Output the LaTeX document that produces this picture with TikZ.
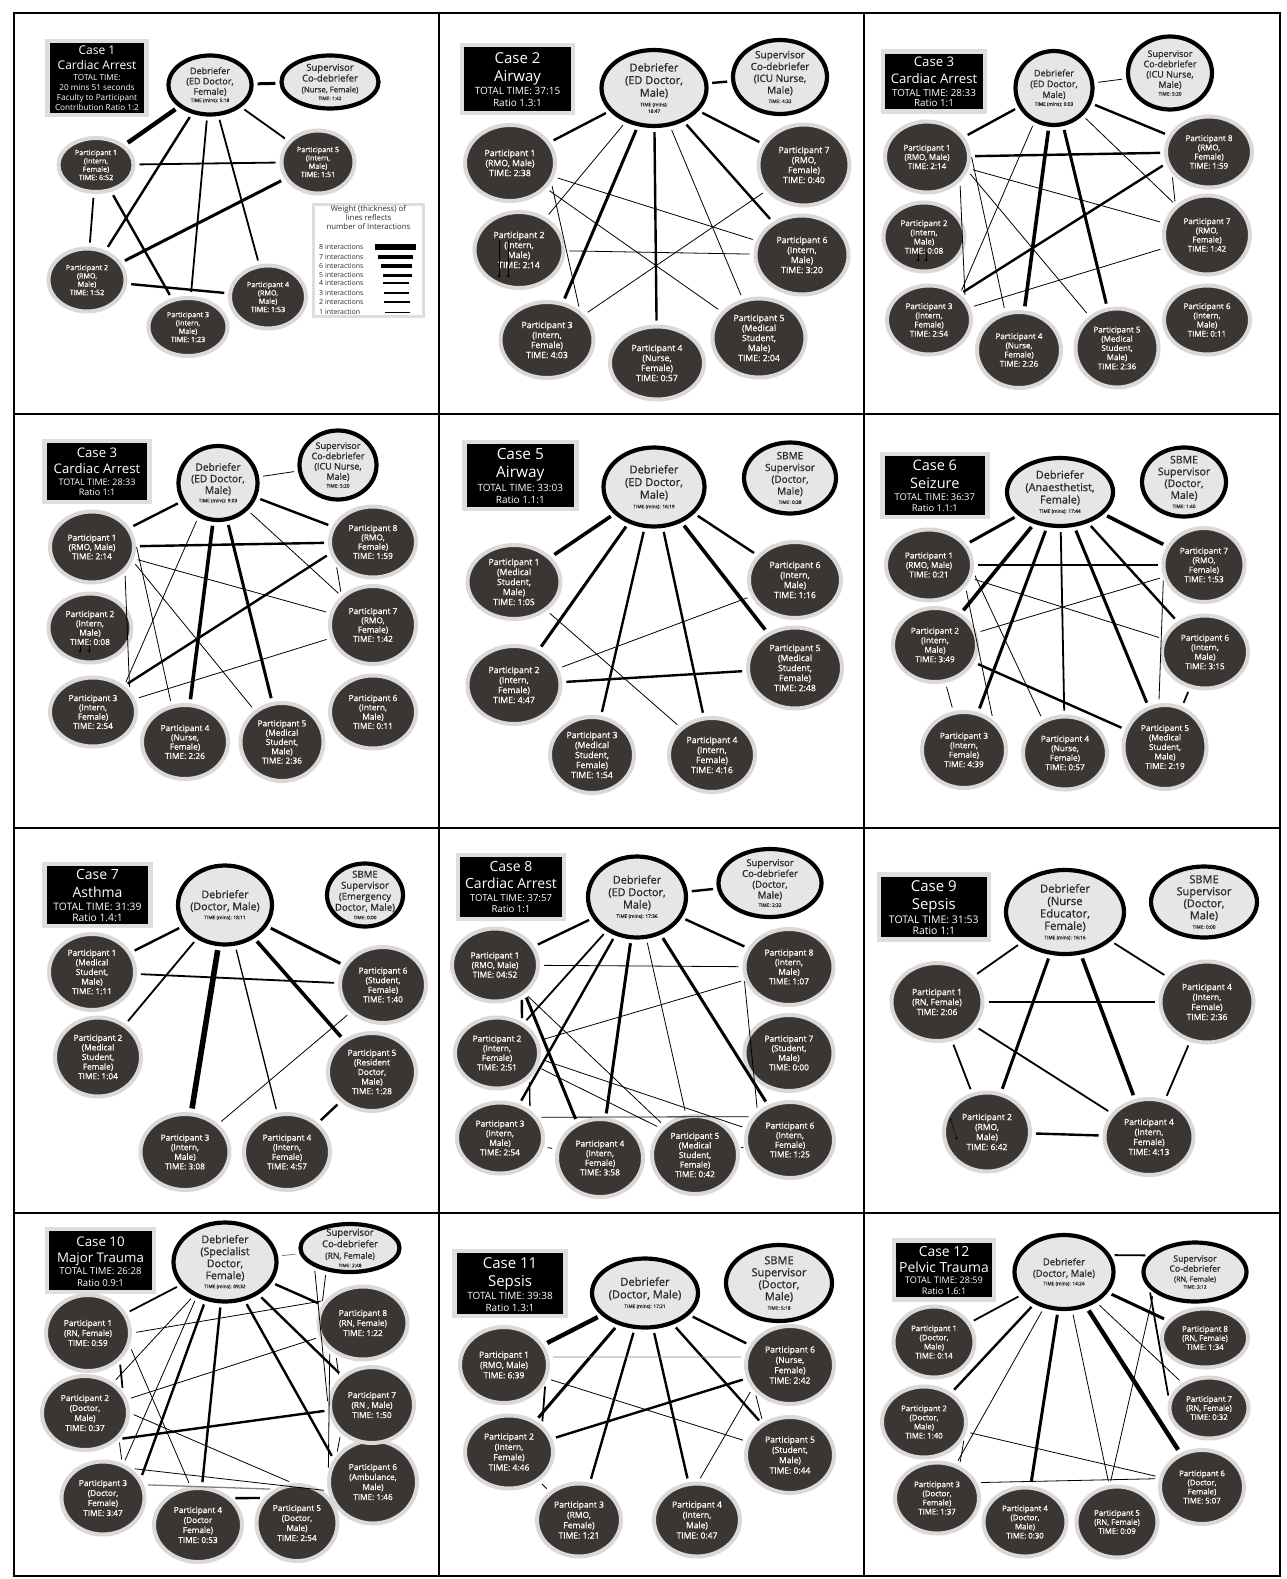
\documentclass[tikz,border=0pt]{standalone}
\usepackage{fontspec}
\setmainfont{Open Sans}
\newfontfamily\semib{Open Sans}[FakeBold=0.9]
\usetikzlibrary{shapes.geometric}

\definecolor{partfill}{HTML}{3B3634}
\definecolor{halo}{HTML}{D9D9D9}
\definecolor{debfill}{HTML}{E6E6E6}
\definecolor{boxrim}{HTML}{DEDEDE}
\definecolor{inktext}{HTML}{2B2B2B}

\newcommand{\casettl}[3]{{\fontsize{#1}{#2}\selectfont\strut #3}}
\newcommand{\tsmall}[1]{{\fontsize{4.8}{5.5}\selectfont #1}}
\newcommand{\pf}[2]{\semib\fontsize{#1}{#2}\selectfont}

\tikzset{
  part/.style={ellipse, fill=partfill, draw=halo, line width=4pt, text=white,
    align=center, inner sep=-4pt, font=\pf{8.3}{9.6}},
  lead/.style={ellipse, fill=debfill, draw=black, line width=4.2pt, text=inktext,
    align=center, inner sep=-4pt},
  casebox/.style={rectangle, fill=black, draw=boxrim, line width=4.5pt, text=white,
    align=center, inner sep=0pt},
  sz/.style args={#1x#2}{minimum width=#1pt, minimum height=#2pt},
  link/.style={draw=black, shorten <=4pt, shorten >=4pt},
  w1/.style={link, line width=0.8pt},
  w2/.style={link, line width=1.3pt},
  w3/.style={link, line width=1.8pt},
  w4/.style={link, line width=2.4pt},
  w5/.style={link, line width=3pt},
  w6/.style={link, line width=3.6pt},
  w7/.style={link, line width=4.4pt},
  w8/.style={link, line width=5.6pt},
  gw1/.style={w1, draw=gray},
  gw2/.style={w2, draw=gray},
}

\begin{document}
\begin{tikzpicture}[x=1pt, y=-1pt]
\fill[white] (0,0) rectangle (1286,1579);

% frame
\draw[line width=2pt] (14,13) rectangle (1280,1576);
\draw[line width=2pt] (439,13) -- (439,1576) (864,13) -- (864,1576);
\draw[line width=2pt] (14,414) -- (1280,414) (14,828) -- (1280,828) (14,1213) -- (1280,1213);

% Case 1
\begin{scope}[shift={(10,10)}, part/.append style={font=\pf{7.2}{8.3}}]
  \node[casebox, sz=99x74, font=\fontsize{8.2}{10}\selectfont] (a-case) at (87,68)
    {\casettl{12}{14}{Case 1}\\\casettl{12}{14}{Cardiac Arrest}\\TOTAL TIME:\\20 mins 51 seconds\\Faculty to Participant\\Contribution Ratio 1:2};
  \node[lead, sz=83x59, font=\pf{9}{10.3}] (a-deb) at (200,75)
    {Debriefer\\(ED Doctor,\\Female)\\[-3pt]\tsmall{TIME (mins): 5:18}};
  \node[lead, sz=97x53, font=\pf{9.5}{10.8}] (a-sup) at (320,72)
    {Supervisor\\Co-debriefer\\{\fontsize{7.8}{9}\selectfont (Nurse, Female)}\\[-3pt]\tsmall{TIME: 1:42}};
  \node[part, sz=75x54] (a-p1) at (86,155) {Participant 1\\(Intern,\\Female)\\TIME: 6:52};
  \node[part, sz=73x63] (a-p5) at (308,152) {Participant 5\\(Intern,\\Male)\\TIME: 1:51};
  \node[part, sz=77x63] (a-p2) at (77,270) {Participant 2\\(RMO,\\Male)\\TIME: 1:52};
  \node[part, sz=79x58] (a-p3) at (178,317) {Participant 3\\(Intern,\\Male)\\TIME: 1:23};
  \node[part, sz=76x63] (a-p4) at (258,287) {Participant 4\\(RMO,\\Male)\\TIME: 1:53};
  \foreach \a/\b/\w in {deb/sup/w5,deb/p1/w7,deb/p2/w4,deb/p3/w3,deb/p4/w3,deb/p5/w3,
      p1/p5/w3,p1/p2/w3,p1/p3/w4,p2/p5/w5,p2/p4/w4}
    \draw[\w] (a-\a) -- (a-\b);
  % key
  \node[rectangle, draw=boxrim, line width=3pt, fill=white, sz=110x112] (a-key) at (358.5,250.5) {};
  \node[anchor=north, text=inktext, align=center, inner sep=0pt, font=\fontsize{7.8}{9}\selectfont] (a-keyhead) at (358.5,195)
    {Weight (thickness) of\\lines reflects\\number of Interactions};
  \foreach \n/\y/\l/\r/\w in {8/237/365/406/w8,7/247/368/403/w7,6/256/371/402/w6,5/265/373/402/w5,
      4/273/373/399/w4,3/283/374/399/w3,2/292/374/400/w2,1/302/375/400/w1}{
    \node[anchor=west, text=inktext, inner sep=0pt, font=\fontsize{7}{8}\selectfont] (a-key\n) at (309,\y)
      {\n\ interaction\ifnum\n>1 s\fi};
    \draw[\w, shorten <=0pt, shorten >=0pt] (\l,\y) -- (\r,\y);
  }
\end{scope}

% Case 2
\begin{scope}[shift={(437,10)}, part/.append style={font=\pf{8.7}{10}}]
  \node[casebox, sz=111x68, font=\fontsize{10}{11.7}\selectfont] (b-case) at (80.5,69)
    {\casettl{15}{17}{Case 2}\\\casettl{15}{17}{Airway}\\TOTAL TIME: 37:15\\Ratio 1.3:1};
  \node[lead, sz=105x76, font=\pf{11}{12.6}] (b-deb) at (217,78)
    {Debriefer\\(ED Doctor,\\Male)\\[-3pt]\tsmall{TIME (mins):}\\[-6pt]\tsmall{16:47}};
  \node[lead, sz=94x74, font=\pf{10}{11.8}] (b-sup) at (343,67)
    {Supervisor\\Co-debriefer\\(ICU Nurse,\\Male)\\[-2.5pt]\tsmall{TIME: 4:32}};
  \node[part, sz=90x76] (b-p1) at (73,153) {Participant 1\\(RMO, Male)\\TIME: 2:38};
  \node[part, sz=89x76] (b-p2) at (82,240) {Participant 2\\(Intern,\\Male)\\TIME: 2:14};
  \node[part, sz=93x76] (b-p3) at (110,330) {Participant 3\\(Intern,\\Female)\\TIME: 4:03};
  \node[part, sz=94x73] (b-p4) at (220,353) {Participant 4\\(Nurse,\\Female)\\TIME: 0:57};
  \node[part, sz=93x79] (b-p5) at (322,328) {Participant 5\\(Medical\\Student,\\Male)\\TIME: 2:04};
  \node[part, sz=93x79] (b-p6) at (365,245) {Participant 6\\(Intern,\\Male)\\TIME: 3:20};
  \node[part, sz=91x81] (b-p7) at (367,155) {Participant 7\\(RMO,\\Female)\\TIME: 0:40};
  \foreach \a/\b/\w in {deb/sup/w4,deb/p1/w4,deb/p7/w4,deb/p2/w1,deb/p3/w5,deb/p4/w4,deb/p5/w1,
      deb/p6/w4,p1/p6/w1,p1/p5/w1,p1.-25/p3.42/w1,p2/p6/w1,p3/p7/w1}
    \draw[\w] (b-\a) -- (b-\b);
  \draw[-stealth, thin] ([shift={(-20,-10)}]b-p2.center) -- ([shift={(-20,28)}]b-p2.center);
  \draw[-stealth, thin] ([shift={(-11,-10)}]b-p2.center) -- ([shift={(-11,28)}]b-p2.center);
\end{scope}

% Case 3
\begin{scope}[shift={(862,10)}, part/.append style={font=\pf{8}{9.2}}]
  \node[casebox, sz=102x60, font=\fontsize{9.8}{10.5}\selectfont] (c-case) at (72,71.5)
    {\casettl{13.2}{15.5}{Case 3}\\\casettl{13.2}{15.5}{Cardiac Arrest}\\TOTAL TIME: 28:33\\Ratio 1:1};
  \node[lead, sz=77x74, font=\pf{9}{10.8}] (c-deb) at (192,78)
    {Debriefer\\(ED Doctor,\\Male)\\[-3pt]\tsmall{TIME (mins): 9:03}};
  \node[lead, sz=84x73, font=\pf{9}{10.3}] (c-sup) at (308,63)
    {Supervisor\\Co-debriefer\\(ICU Nurse,\\Male)\\[-2.5pt]\tsmall{TIME: 5:20}};
  \node[part, sz=84x71] (c-p1) at (65,147) {Participant 1\\(RMO, Male)\\TIME: 2:14};
  \node[part, sz=81x69] (c-p2) at (62,227) {Participant 2\\(Intern,\\Male)\\TIME: 0:08};
  \node[part, sz=84x69] (c-p3) at (67,310) {Participant 3\\(Intern,\\Female)\\TIME: 2:54};
  \node[part, sz=84x76] (c-p4) at (157,340) {Participant 4\\(Nurse,\\Female)\\TIME: 2:26};
  \node[part, sz=83x79] (c-p5) at (255,338) {Participant 5\\(Medical\\Student,\\Male)\\TIME: 2:36};
  \node[part, sz=86x69] (c-p6) at (345,310) {Participant 6\\(Intern,\\Male)\\TIME: 0:11};
  \node[part, sz=86x79] (c-p7) at (345,225) {Participant 7\\(RMO,\\Female)\\TIME: 1:42};
  \node[part, sz=86x71] (c-p8) at (347,142) {Participant 8\\(RMO,\\Female)\\TIME: 1:59};
  \foreach \a/\b/\w in {deb/sup/w1,deb/p1/w4,deb/p8/w4,deb.-120/p3.40/w1,deb/p4/w6,deb/p5/w5,
      deb/p7/w1,p1/p8/w4,p1/p7/w1,p1.-19/p5.131/w1,p1.5/p4.110/w1,p1.-37/p3.30/w1,p3/p7/w1,
      p8.-150/p7.137/w1,p3.40/p8.-165/w4}
    \draw[\w] (c-\a) -- (c-\b);
  \draw[-stealth, thin] ([shift={(-6,16)}]c-p2.center) -- ([shift={(-6,25)}]c-p2.center);
  \draw[-stealth, thin] ([shift={(2,16)}]c-p2.center) -- ([shift={(2,25)}]c-p2.center);
\end{scope}

% Case 3 (again)
\begin{scope}[shift={(10,410)}, part/.append style={font=\pf{8.3}{9.3}}]
  \node[casebox, sz=105x61, font=\fontsize{9}{10}\selectfont] (d-case) at (87,61.7)
    {\casettl{13.2}{15}{Case 3}\\\casettl{13.2}{15}{Cardiac Arrest}\\TOTAL TIME: 28:33\\Ratio 1:1};
  \node[lead, sz=79x74, font=\pf{10.2}{11.5}] (d-deb) at (208,73)
    {Debriefer\\(ED Doctor,\\Male)\\[-3pt]\tsmall{TIME (mins): 9:03}};
  \node[lead, sz=77x69, font=\pf{9}{10.3}] (d-sup) at (328,55)
    {Supervisor\\Co-debriefer\\(ICU Nurse,\\Male)\\[-2.5pt]\tsmall{TIME: 5:20}};
  \node[part, sz=84x71] (d-p1) at (82,137) {Participant 1\\(RMO, Male)\\TIME: 2:14};
  \node[part, sz=83x69] (d-p2) at (80,218) {Participant 2\\(Intern,\\Male)\\TIME: 0:08};
  \node[part, sz=86x69] (d-p3) at (83,302) {Participant 3\\(Intern,\\Female)\\TIME: 2:54};
  \node[part, sz=86x74] (d-p4) at (175,332) {Participant 4\\(Nurse,\\Female)\\TIME: 2:26};
  \node[part, sz=83x78] (d-p5) at (272,332) {Participant 5\\(Medical\\Student,\\Male)\\TIME: 2:36};
  \node[part, sz=86x73] (d-p6) at (363,302) {Participant 6\\(Intern,\\Male)\\TIME: 0:11};
  \node[part, sz=86x78] (d-p7) at (363,215) {Participant 7\\(RMO,\\Female)\\TIME: 1:42};
  \node[part, sz=86x71] (d-p8) at (363,132) {Participant 8\\(RMO,\\Female)\\TIME: 1:59};
  \foreach \a/\b/\w in {deb/sup/w1,deb/p1/w4,deb/p8/w4,deb.-120/p3.40/w1,deb/p4/w6,deb/p5/w5,
      deb/p7/w1,p1/p8/w4,p1/p7/w1,p1.-19/p5.131/w1,p1.5/p4.110/w1,p1.-37/p3.30/w1,p3/p7/w1,
      p8.-150/p7.137/w1,p3.40/p8.-165/w4}
    \draw[\w] (d-\a) -- (d-\b);
  \draw[-stealth, thin] ([shift={(-10,17)}]d-p2.center) -- ([shift={(-10,25)}]d-p2.center);
  \draw[-stealth, thin] ([shift={(-1,17)}]d-p2.center) -- ([shift={(-1,25)}]d-p2.center);
\end{scope}

% Case 5
\begin{scope}[shift={(437,410)}, part/.append style={font=\pf{8.7}{10}}]
  \node[casebox, sz=112x67, font=\fontsize{10}{12}\selectfont] (e-case) at (83.3,65.5)
    {\casettl{15.4}{17}{Case 5}\\\casettl{15.4}{17}{Airway}\\TOTAL TIME: 33:03\\Ratio 1.1:1};
  \node[lead, sz=101x79, font=\pf{11}{12.6}] (e-deb) at (217,77)
    {Debriefer\\(ED Doctor,\\Male)\\[-3pt]\tsmall{TIME (mins): 16:19}};
  \node[lead, sz=92x71, font=\pf{10}{11.8}] (e-sup) at (353,68)
    {SBME\\Supervisor\\(Doctor,\\Male)\\[-2.5pt]\tsmall{TIME: 0:38}};
  \node[part, sz=93x74] (e-p1) at (77,172) {Participant 1\\(Medical\\Student,\\Male)\\TIME: 1:05};
  \node[part, sz=93x78] (e-p2) at (77,275) {Participant 2\\(Intern,\\Female)\\TIME: 4:47};
  \node[part, sz=84x76] (e-p3) at (155,345) {Participant 3\\(Medical\\Student,\\Female)\\TIME: 1:54};
  \node[part, sz=86x74] (e-p4) at (275,345) {Participant 4\\(Intern,\\Female)\\TIME: 4:16};
  \node[part, sz=94x81] (e-p5) at (358,258) {Participant 5\\(Medical\\Student,\\Female)\\TIME: 2:48};
  \node[part, sz=92x76] (e-p6) at (358,170) {Participant 6\\(Intern,\\Male)\\TIME: 1:16};
  \foreach \a/\b/\w in {deb/p1/w6,deb/p6/w4,deb/p2/w5,deb/p3/w4,deb/p4/w4,deb/p5/w6,
      p1/p4/w1,p2/p6/w1,p2/p5/w4}
    \draw[\w] (e-\a) -- (e-\b);
\end{scope}

% Case 6
\begin{scope}[shift={(862,410)}, part/.append style={font=\pf{8.2}{9.5}}]
  \node[casebox, sz=105x63, font=\fontsize{9.4}{11}\selectfont] (f-case) at (72.8,75.5)
    {\casettl{14.5}{16.5}{Case 6}\\\casettl{14.5}{16.5}{Seizure}\\TOTAL TIME: 36:37\\Ratio 1.1:1};
  \node[lead, sz=106x68, font=\pf{10.9}{12.4}] (f-deb) at (198,82)
    {Debriefer\\(Anaesthetist,\\Female)\\[-3pt]\tsmall{TIME (mins): 17:44}};
  \node[lead, sz=84x69, font=\pf{10.5}{11.8}] (f-sup) at (322,72)
    {SBME\\Supervisor\\(Doctor,\\Male)\\[-2.5pt]\tsmall{TIME: 1:40}};
  \node[part, sz=86x71] (f-p1) at (67,155) {Participant 1\\(RMO, Male)\\TIME: 0:21};
  \node[part, sz=84x74] (f-p2) at (73,235) {Participant 2\\(Intern,\\Male)\\TIME: 3:49};
  \node[part, sz=84x76] (f-p3) at (102,340) {Participant 3\\(Intern,\\Female)\\TIME: 4:39};
  \node[part, sz=84x73] (f-p4) at (203,343) {Participant 4\\(Nurse,\\Female)\\TIME: 0:57};
  \node[part, sz=83x84] (f-p5) at (303,337) {Participant 5\\(Medical\\Student,\\Male)\\TIME: 2:19};
  \node[part, sz=86x73] (f-p6) at (343,242) {Participant 6\\(Intern,\\Male)\\TIME: 3:15};
  \node[part, sz=81x74] (f-p7) at (342,155) {Participant 7\\(RMO,\\Female)\\TIME: 1:53};
  \foreach \a/\b/\w in {deb/p1/w5,deb/p7/w6,deb/p2/w6,deb/p3/w5,deb/p4/w3,deb/p5/w5,deb/p6/w4,
      p1/p7/w4,p1/p6/w1,p1.-9/p4.124/w1,p1.-31/p3.46/w1,p2/p7/w1,p2/p5/w4,p2/p3/w1,
      p7.-164/p5.98/w1,p5/p6/w3}
    \draw[\w] (f-\a) -- (f-\b);
\end{scope}

% Case 7
\begin{scope}[shift={(10,820)}, part/.append style={font=\pf{8.3}{9.6}}]
  \node[casebox, sz=106x62, font=\fontsize{10.3}{11}\selectfont] (g-case) at (87.5,75)
    {\casettl{14}{16.5}{Case 7}\\\casettl{14}{16.5}{Asthma}\\TOTAL TIME: 31:39\\Ratio 1.4:1};
  \node[lead, sz=94x79, font=\pf{10.6}{12}] (g-deb) at (215,85)
    {Debriefer\\(Doctor, Male)\\[-3pt]\tsmall{TIME (mins): 18:11}};
  \node[lead, sz=76x63, font=\pf{9.6}{11}] (g-sup) at (355,75)
    {SBME\\Supervisor\\(Emergency\\Doctor, Male)\\[-2.5pt]\tsmall{TIME: 0:00}};
  \node[part, sz=86x76] (g-p1) at (82,152) {Participant 1\\(Medical\\Student,\\Male)\\TIME: 1:11};
  \node[part, sz=86x79] (g-p2) at (88,237) {Participant 2\\(Medical\\Student,\\Female)\\TIME: 1:04};
  \node[part, sz=89x76] (g-p3) at (175,332) {Participant 3\\(Intern,\\Male)\\TIME: 3:08};
  \node[part, sz=86x76] (g-p4) at (277,332) {Participant 4\\(Intern,\\Female)\\TIME: 4:57};
  \node[part, sz=88x78] (g-p5) at (362,252) {Participant 5\\(Resident\\Doctor,\\Male)\\TIME: 1:28};
  \node[part, sz=86x76] (g-p6) at (373,165) {Participant 6\\(Student,\\Female)\\TIME: 1:40};
  \foreach \a/\b/\w in {deb/p1/w4,deb/p6/w5,deb/p2/w3,deb/p3/w8,deb/p4/w2,deb/p5/w6,
      p1/p6/w3,p3/p6/w1,p4/p5/w4}
    \draw[\w] (g-\a) -- (g-\b);
\end{scope}

% Case 8
\begin{scope}[shift={(437,820)}, part/.append style={font=\pf{8.3}{9.6}}]
  \node[casebox, sz=106x64, font=\fontsize{9.6}{11}\selectfont] (h-case) at (74,66.8)
    {\casettl{14}{16}{Case 8}\\\casettl{14}{16}{Cardiac Arrest}\\TOTAL TIME: 37:57\\Ratio 1:1};
  \node[lead, sz=98x81, font=\pf{10.9}{12.4}] (h-deb) at (200,77)
    {Debriefer\\(ED Doctor,\\Male)\\[-3pt]\tsmall{TIME (mins): 17:36}};
  \node[lead, sz=103x68, font=\pf{9.5}{10.8}] (h-sup) at (333,63)
    {Supervisor\\Co-debriefer\\(Doctor,\\Male)\\[-2.5pt]\tsmall{TIME: 2:32}};
  \node[part, sz=86x73] (h-p1) at (58,145) {Participant 1\\(RMO, Male)\\TIME: 04:52};
  \node[part, sz=84x71] (h-p2) at (60,233) {Participant 2\\(Intern,\\Female)\\TIME: 2:51};
  \node[part, sz=86x71] (h-p3) at (63,318) {Participant 3\\(Intern,\\Male)\\TIME: 2:54};
  \node[part, sz=86x78] (h-p4) at (163,338) {Participant 4\\(Intern,\\Female)\\TIME: 3:58};
  \node[part, sz=86x78] (h-p5) at (258,335) {Participant 5\\(Medical\\Student,\\Female)\\TIME: 0:42};
  \node[part, sz=88x76] (h-p6) at (353,320) {Participant 6\\(Intern,\\Female)\\TIME: 1:25};
  \node[part, sz=89x76] (h-p7) at (352,233) {Participant 7\\(Student,\\Male)\\TIME: 0:00};
  \node[part, sz=89x76] (h-p8) at (352,147) {Participant 8\\(Intern,\\Male)\\TIME: 1:07};
  \foreach \a/\b/\w in {deb/sup/w4,deb/p1/w4,deb/p8/w4,p1/p8/w1,p1/p5/w1,deb/p2/w3,deb/p3/w4,
      deb/p4/w5,deb/p5/w1,deb/p6/w5,p1.-44/p4.123/w5,p1.-49/p2.51/w4,p2/p8/w1,p2.-19/p5.142/w1,
      p2.-8/p6.165/w1,p8.-167/p6.139/w1,p3.29/p6.148/w1,p3/p4/w1,p5/p6/w1,p2.-38/p3.43/w2}
    \draw[\w] (h-\a) -- (h-\b);
\end{scope}

% Case 9
\begin{scope}[shift={(862,820)}, part/.append style={font=\pf{8.5}{10}}]
  \node[casebox, sz=110x65, font=\fontsize{10.5}{11}\selectfont] (i-case) at (71.8,87)
    {\casettl{15}{17}{Case 9}\\\casettl{15}{17}{Sepsis}\\TOTAL TIME: 31:53\\Ratio 1:1};
  \node[lead, sz=118x84, font=\pf{11.3}{12.4}] (i-deb) at (203,92)
    {Debriefer\\(Nurse\\Educator,\\Female)\\[-3pt]\tsmall{TIME (mins): 16:16}};
  \node[lead, sz=106x71, font=\pf{11}{12}] (i-sup) at (342,82)
    {SBME\\Supervisor\\(Doctor,\\Male)\\[-2.5pt]\tsmall{TIME: 0:00}};
  \node[part, sz=91x78] (i-p1) at (75,182) {Participant 1\\(RN, Female)\\TIME: 2:06};
  \node[part, sz=86x79] (i-p2) at (125,312) {Participant 2\\(RMO,\\Male)\\TIME: 6:42};
  \node[part, sz=89x76] (i-p4b) at (287,317) {Participant 4\\(Intern,\\Female)\\TIME: 4:13};
  \node[part, sz=93x81] (i-p4a) at (345,182) {Participant 4\\(Intern,\\Female)\\TIME: 2:36};
  \foreach \a/\b/\w in {deb/p1/w3,deb/p4a/w3,deb/p2/w5,deb/p4b/w6,p1/p4a/w4,p1/p4b/w3,
      p1/p2/w3,p2/p4b/w4,p4a/p4b/w3}
    \draw[\w] (i-\a) -- (i-\b);
  \draw[stealth-stealth, thin] ([shift={(-37,-14)}]i-p2.center) -- ([shift={(-30,8)}]i-p2.center);
\end{scope}

% Case 10
\begin{scope}[shift={(10,1205)}, part/.append style={font=\pf{8.2}{10}}]
  \node[casebox, sz=107x63, font=\fontsize{9.6}{11.3}\selectfont] (j-case) at (90.5,55.5)
    {\casettl{13.3}{16}{Case 10}\\\casettl{13.3}{15}{Major Trauma}\\TOTAL TIME: 26:28\\Ratio 0.9:1};
  \node[lead, sz=103x79, font=\pf{10.6}{12}] (j-deb) at (215,57)
    {Debriefer\\(Specialist\\Doctor,\\Female)\\[-3pt]\tsmall{TIME (mins): 09:32}};
  \node[lead, sz=99x48, font=\pf{9.5}{11.5}] (j-sup) at (340,43)
    {Supervisor\\Co-debriefer\\{\fontsize{8.5}{9}\selectfont (RN, Female)}\\[-3pt]\tsmall{TIME: 2:48}};
  \node[part, sz=84x76] (j-p1) at (78,128) {Participant 1\\(RN, Female)\\TIME: 0:59};
  \node[part, sz=86x74] (j-p2) at (75,208) {Participant 2\\(Doctor,\\Male)\\TIME: 0:37};
  \node[part, sz=83x73] (j-p3) at (93,293) {Participant 3\\(Doctor,\\Female)\\TIME: 3:47};
  \node[part, sz=88x74] (j-p4) at (188,320) {Participant 4\\(Doctor\\Female)\\TIME: 0:53};
  \node[part, sz=81x76] (j-p5) at (287,318) {Participant 5\\(Doctor,\\Male)\\TIME: 2:54};
  \node[part, sz=88x83] (j-p6) at (363,277) {Participant 6\\(Ambulance,\\Male)\\TIME: 1:46};
  \node[part, sz=84x76] (j-p7) at (362,200) {Participant 7\\(RN , Male)\\TIME: 1:50};
  \node[part, sz=89x73] (j-p8) at (353,118) {Participant 8\\(RN, Female)\\TIME: 1:22};
  \foreach \a/\b/\w in {deb/sup/gw1,deb/p1/w3,deb/p8/w4,deb/p7/w4,deb.-63/p6.150/w4,deb/p4/w4,
      deb.-117/p3.27/w4,deb.-129/p3.59/w1,deb/p2/w1,p1.0/p8.149/w1,p1.-17/p4.101/w1,p2/p8/w1,
      p2.-38/p7.-173/w4,p2.0/p5.96/w1,p1.-41/p2.29/w3,p2.-37/p3.61/w1,p3.47/p6.-169/w1,
      p3.18/p5.124/gw2,p4.39/p5.143/w4,sup.-136/p8.156/w1,sup.-152/p7.180/w1,
      p8.-131/p7.141/w1,p8.-141/p6.167/w1,p7.-138/p6.144/w1}
    \draw[\w] (j-\a) -- (j-\b);
\end{scope}

% Case 11
\begin{scope}[shift={(437,1205)}, part/.append style={font=\pf{8.5}{10.3}}]
  \node[casebox, sz=111x65, font=\fontsize{10}{11.7}\selectfont] (k-case) at (73,78.7)
    {\casettl{15}{17}{Case 11}\\\casettl{15}{17}{Sepsis}\\TOTAL TIME: 39:38\\Ratio 1.3:1};
  \node[lead, sz=106x69, font=\pf{11.1}{12.6}] (k-deb) at (208,88)
    {Debriefer\\(Doctor, Male)\\[-3pt]\tsmall{TIME (mins): 17:21}};
  \node[lead, sz=106x76, font=\pf{11}{12}] (k-sup) at (342,78)
    {SBME\\Supervisor\\(Doctor,\\Male)\\[-2.5pt]\tsmall{TIME: 5:18}};
  \node[part, sz=88x76] (k-p1) at (67,160) {Participant 1\\(RMO, Male)\\TIME: 6:39};
  \node[part, sz=88x73] (k-p2) at (72,247) {Participant 2\\(Intern,\\Female)\\TIME: 4:46};
  \node[part, sz=84x73] (k-p3) at (142,315) {Participant 3\\(RMO,\\Female)\\TIME: 1:21};
  \node[part, sz=86x73] (k-p4) at (260,315) {Participant 4\\(Intern,\\Male)\\TIME: 0:47};
  \node[part, sz=88x76] (k-p5) at (353,250) {Participant 5\\(Student,\\Male)\\TIME: 0:44};
  \node[part, sz=88x78] (k-p6) at (353,160) {Participant 6\\(Nurse,\\Female)\\TIME: 2:42};
  \foreach \a/\b/\w in {deb/p1/w7,deb/p6/w4,deb/p2/w5,deb/p3/w4,deb/p4/w4,deb/p5/w4,
      p1.10/p6.170/gw1,p1/p5/w1,p1.-23/p2.39/w3,p2/p6/w4,p2/p3/w1,p4.88/p6.-148/w1,
      p6.-143/p5.130/w1}
    \draw[\w] (k-\a) -- (k-\b);
\end{scope}

% Case 12
\begin{scope}[shift={(862,1205)}, part/.append style={font=\pf{7.8}{9.1}}]
  \node[casebox, sz=100x59, font=\fontsize{9.1}{11}\selectfont] (l-case) at (82,65)
    {\casettl{13.9}{16}{Case 12}\\\casettl{13.9}{14.5}{Pelvic Trauma}\\TOTAL TIME: 28:59\\Ratio 1.6:1};
  \node[lead, sz=99x74, font=\pf{9.5}{11.5}] (l-deb) at (202,67)
    {Debriefer\\(Doctor, Male)\\[-3pt]\tsmall{TIME (mins): 14:24}};
  \node[lead, sz=103x59, font=\pf{8.7}{10}] (l-sup) at (333,67)
    {Supervisor\\Co-debriefer\\{\fontsize{7.2}{9}\selectfont (RN, Female)}\\[-3pt]\tsmall{TIME: 3:12}};
  \node[part, sz=81x71] (l-p1) at (72,137) {Participant 1\\(Doctor,\\Male)\\TIME: 0:14};
  \node[part, sz=84x71] (l-p2) at (62,217) {Participant 2\\(Doctor,\\Male)\\TIME: 1:40};
  \node[part, sz=84x71] (l-p3) at (75,293) {Participant 3\\(Doctor,\\Female)\\TIME: 1:37};
  \node[part, sz=83x69] (l-p4) at (163,317) {Participant 4\\(Doctor,\\Male)\\TIME: 0:30};
  \node[part, sz=81x71] (l-p5) at (255,317) {Participant 5\\(RN, Female)\\TIME: 0:09};
  \node[part, sz=84x74] (l-p6) at (340,282) {Participant 6\\(Doctor,\\Female)\\TIME: 5:07};
  \node[part, sz=79x61] (l-p7) at (347,203) {Participant 7\\(RN, Female)\\TIME: 0:32};
  \node[part, sz=86x59] (l-p8) at (343,133) {Participant 8\\(RN, Female)\\TIME: 1:34};
  \foreach \a/\b/\w in {deb.20/sup.160/w3,deb/p1/w3,deb/p8/w5,deb/p2/w4,deb/p3/w1,deb/p4/w5,
      deb/p5/w1,deb/p6/w7,deb/p7/w1,sup.-160/p7.168/w3,sup.-154/p5.101/w1,p2/p6/w1,
      p2.-20/p3.55/w1,p3.21/p6.169/w1}
    \draw[\w] (l-\a) -- (l-\b);
\end{scope}
\end{tikzpicture}
\end{document}
